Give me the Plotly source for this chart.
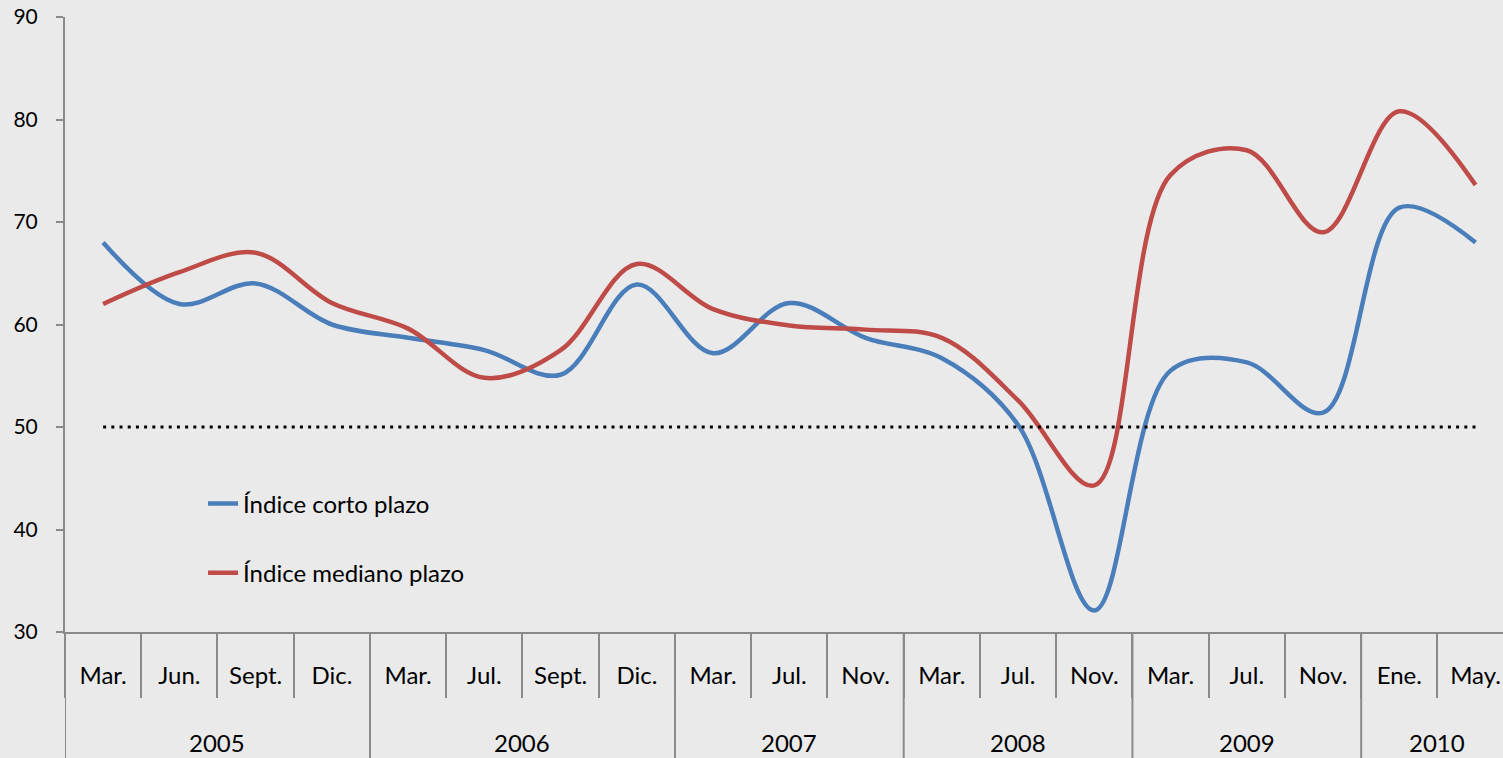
import plotly.graph_objects as go

# Survey indices by period (month label, year group)
months = ["Mar.", "Jun.", "Sept.", "Dic.",
          "Mar.", "Jul.", "Sept.", "Dic.",
          "Mar.", "Jul.", "Nov.",
          "Mar.", "Jul.", "Nov.",
          "Mar.", "Jul.", "Nov.",
          "Ene.", "May."]
years = ["2005"] * 4 + ["2006"] * 4 + ["2007"] * 3 + ["2008"] * 3 + ["2009"] * 3 + ["2010"] * 2

indice_corto = [68.0, 62.0, 64.0, 60.0, 58.7, 57.5, 55.1, 63.9, 57.2, 62.1,
                58.7, 56.7, 50.2, 32.1, 55.5, 56.3, 51.4, 71.4, 68.0]
indice_mediano = [62.0, 65.1, 67.0, 62.1, 59.6, 54.8, 57.5, 65.9, 61.5, 59.9,
                  59.5, 58.7, 52.6, 44.3, 74.6, 77.0, 69.0, 80.8, 73.6]
umbral = [50] * len(months)

y_ticks = [30, 40, 50, 60, 70, 80, 90]

FONT = "Lato, 'Open Sans', sans-serif"
AXIS_COLOR = "#8a8a8a"
BG = "#eaeaea"

idx = list(range(len(months)))
x_range = [-0.5, 18.36]

# year groups: boundaries between groups and the centre of each group
year_names, year_centers, year_bounds = [], [], [-0.5]
start = 0
for i in range(1, len(years) + 1):
    if i == len(years) or years[i] != years[start]:
        year_names.append(years[start])
        year_centers.append((start + i - 1) / 2)
        year_bounds.append(i - 0.5)
        start = i
month_bounds = [i - 0.5 for i in range(len(months) + 1)]

fig = go.Figure()

# neutral 50 reference line, on the twin axis that carries the month separators
fig.add_trace(go.Scatter(
    x=idx, y=umbral, mode="lines", xaxis="x2",
    line=dict(color="black", width=3, dash="3px,5.2px"),
    showlegend=False, hoverinfo="skip",
))

fig.add_trace(go.Scatter(
    x=idx, y=indice_corto, mode="lines", name="Índice corto plazo",
    legendgroup="a",
    line=dict(color="#4a7ebb", width=4.5, shape="spline", smoothing=1.0),
))
fig.add_trace(go.Scatter(
    x=idx, y=indice_mediano, mode="lines", name="Índice mediano plazo",
    legendgroup="b",
    line=dict(color="#be4b48", width=4.5, shape="spline", smoothing=1.0),
))

# year separators spanning both label rows, and the year labels
for b in year_bounds:
    fig.add_shape(type="line", xref="x", yref="paper", x0=b, x1=b, y0=0, y1=-0.3,
                  line=dict(color=AXIS_COLOR, width=2), layer="below")
for name, c in zip(year_names, year_centers):
    fig.add_annotation(x=c, xref="x", y=-0.179, yref="paper", yanchor="middle",
                       text=name, showarrow=False, font=dict(size=24, family=FONT))

fig.update_layout(
    width=1503, height=758,
    margin=dict(l=65, r=0, t=17, b=126),
    paper_bgcolor=BG, plot_bgcolor=BG,
    font=dict(family=FONT, size=24, color="black"),
    showlegend=True,
    legend=dict(
        x=0.096, y=0.245, xanchor="left", yanchor="top",
        bgcolor="rgba(0,0,0,0)", font=dict(size=24, family=FONT),
        tracegroupgap=35, itemwidth=30,
    ),
    # month labels
    xaxis=dict(
        range=x_range, tickvals=idx, ticktext=months,
        showline=True, linecolor=AXIS_COLOR, linewidth=2,
        ticks="", ticklabelstandoff=21,
        showgrid=False, zeroline=False,
        tickfont=dict(size=24, family=FONT),
    ),
    # separators between months
    xaxis2=dict(
        overlaying="x", anchor="y", side="bottom", range=x_range,
        tickvals=month_bounds,
        ticks="outside", ticklen=65, tickcolor=AXIS_COLOR, tickwidth=2,
        showticklabels=False, showline=False, showgrid=False, zeroline=False,
    ),
    yaxis=dict(
        range=[30, 90], tickvals=y_ticks,
        showline=True, linecolor=AXIS_COLOR, linewidth=2,
        ticks="outside", ticklen=7, tickcolor=AXIS_COLOR, tickwidth=2,
        ticklabelstandoff=14,
        showgrid=False, zeroline=False,
        tickfont=dict(size=21, family=FONT),
    ),
)

fig.write_html("out.html")
